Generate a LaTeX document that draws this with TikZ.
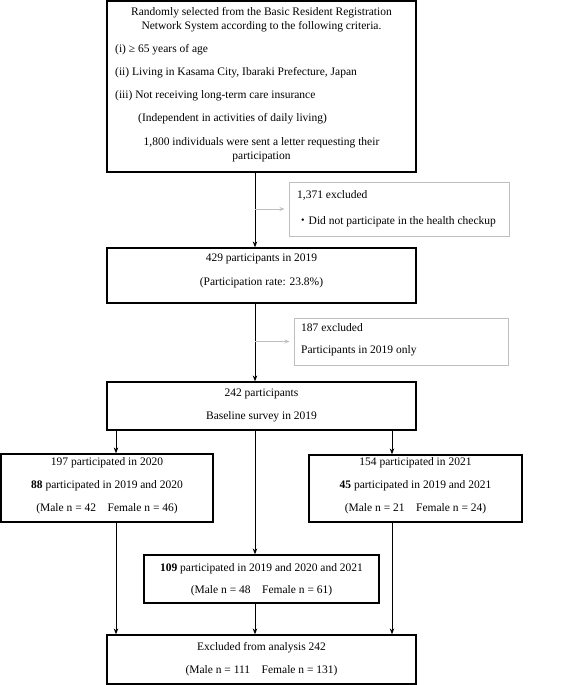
\documentclass[tikz,border=0pt]{standalone}
\usepackage{fontspec}
\setmainfont{Liberation Serif}
\newfontfamily\cjk{Noto Sans CJK JP}
\usetikzlibrary{arrows.meta}

\begin{document}
\begin{tikzpicture}[x=1pt, y=-1pt, >={Stealth[length=6pt, width=4.5pt]},
    every box/.style={draw, line width=1.2pt, inner sep=0pt},
    excl box/.style={draw=black!25, line width=1pt, inner sep=0pt},
    txt/.style={inner sep=0pt, align=center, font=\fontsize{11.5}{14}\selectfont},
    lead/.style={txt, anchor=west, align=left},
    flow/.style={->, line width=1pt},
    side/.style={-{Stealth[length=5pt, width=4pt]}, draw=black!25, line width=0.8pt, shorten >=4pt}]

    \useasboundingbox (0,0) rectangle (568,685);

    \foreach \n/\x/\y/\w/\h in {select/261.5/86.5/309/171, part2019/261.5/275.5/309/55,
        baseline/261.5/406/309/48, y2020/107/488/212/68, y2021/415.5/488.5/213/67,
        all3/261.5/579/235/48, analysis/261.5/659.5/309/49}
      \node [every box, minimum width=\w pt, minimum height=\h pt] (\n) at (\x,\y) {};

    \foreach \n/\x/\y/\w/\h in {excl-1/399/209/220/54, excl-2/401/341.5/214/47}
      \node [excl box, minimum width=\w pt, minimum height=\h pt] (\n) at (\x,\y) {};

    \node [txt] (select-a) at (261.5,20)
      {Randomly selected from the Basic Resident Registration\\Network System according to the following criteria.};
    \foreach \t/\x [count=\i] in {{(i) ≥ 65 years of age}/115,
        {(ii) Living in Kasama City, Ibaraki Prefecture, Japan}/115,
        {(iii) Not receiving long-term care insurance}/115,
        {(Independent in activities of daily living)}/138}
      \node [lead] (crit-\i) at (\x,27+\i*23) {\t};
    \node [txt] (select-b) at (261.5,150)
      {1,800 individuals were sent a letter requesting their\\participation};

    \node [lead] (excl-1-a) at (297,195) {1,371 excluded};
    \node [lead] (excl-1-b) at (297,222) {{\cjk ・}Did not participate in the health checkup};
    \node [lead] (excl-2-a) at (301,328) {187 excluded};
    \node [lead] (excl-2-b) at (301,351) {Participants in 2019 only};

    \foreach \n/\x/\y/\t in {part2019-a/261.5/259/{429 participants in 2019},
        part2019-b/261.5/283/{(Participation rate: 23.8\%)},
        baseline-a/261.5/394/{242 participants},
        baseline-b/261.5/417/{Baseline survey in 2019},
        y2020-a/107/463/{197 participated in 2020},
        y2020-b/107/486/{\textbf{88} participated in 2019 and 2020},
        y2020-c/107/509/{(Male n = 42\quad Female n = 46)},
        y2021-a/415.5/463/{154 participated in 2021},
        y2021-b/415.5/486/{\textbf{45} participated in 2019 and 2021},
        y2021-c/415.5/509/{(Male n = 21\quad Female n = 24)},
        all3-a/261.5/569/{\textbf{109} participated in 2019 and 2020 and 2021},
        all3-b/261.5/591/{(Male n = 48\quad Female n = 61)},
        analysis-a/261.5/648/{Excluded from analysis 242},
        analysis-b/261.5/671/{(Male n = 111\quad Female n = 131)}}
      \node [txt] (\n) at (\x,\y) {\t};

    \coordinate (lane-1) at (116,0);
    \coordinate (lane-2) at (255,0);
    \coordinate (lane-3) at (392,0);

    \draw [flow] (select.south -| lane-2) -- (part2019.north -| lane-2);
    \draw [flow] (part2019.south -| lane-2) -- (baseline.north -| lane-2);
    \draw [side] (excl-1.west -| lane-2) -- (excl-1.west);
    \draw [side] (excl-2.west -| lane-2) -- (excl-2.west);

    \foreach \b/\l in {y2020/lane-1, all3/lane-2, y2021/lane-3} {
      \draw [flow] (baseline.south -| \l) -- (\b.north -| \l);
      \draw [flow] (\b.south -| \l) -- (analysis.north -| \l);
    }

\end{tikzpicture}
\end{document}
